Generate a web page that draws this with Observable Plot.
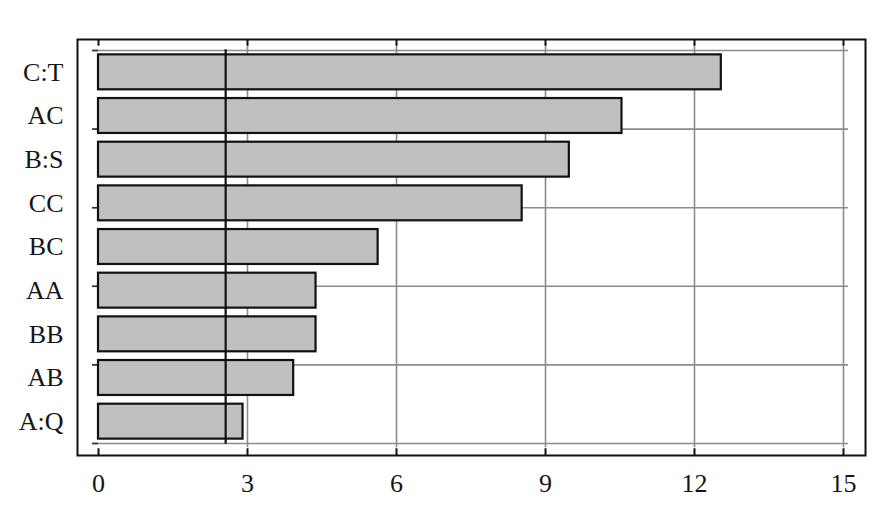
<!DOCTYPE html>
<html>
<head>
<meta charset="utf-8">
<script src="https://cdn.jsdelivr.net/npm/d3@7"></script>
<script src="https://cdn.jsdelivr.net/npm/@observablehq/plot@0.6"></script>
<style>
  html, body { margin: 0; padding: 0; background: #fff; }
  #chart svg { display: block; }
  #chart svg text { font-family: "Liberation Serif", "DejaVu Serif", serif !important; font-size: 26px; fill: #151515; }
</style>
</head>
<body>
<div id="chart"></div>
<script>
// Effects, top to bottom
const effects = ["C:T", "AC", "B:S", "CC", "BC", "AA", "BB", "AB", "A:Q"];
// Standardized effect values
const values = [12.54, 10.54, 9.48, 8.53, 5.63, 4.38, 4.38, 3.93, 2.91];
// Critical value line
const critical = 2.56;
// Axis tick values
const xTicks = [0, 3, 6, 9, 12, 15];
const yGrid = [0, 1.8, 3.6, 5.4, 7.2, 9];

const rows = effects.map((name, i) => ({
  name,
  value: values[i],
  pos: effects.length - 0.5 - i
}));

const chart = Plot.plot({
  width: 893,
  height: 512,
  marginLeft: 77,
  marginRight: 28,
  marginTop: 39,
  marginBottom: 57,
  style: { fontSize: "26px", color: "#151515", background: "#fff" },
  x: { domain: [-0.423, 15.443] },
  y: { domain: [-0.275, 9.252] },
  marks: [
    // vertical gridlines
    Plot.ruleX(xTicks.slice(1), { y1: -0.1, y2: 9.15, stroke: "#8c8c8c", strokeWidth: 1.6 }),
    // horizontal gridlines
    Plot.ruleY(yGrid, { x1: -0.12, x2: 15.1, stroke: "#8c8c8c", strokeWidth: 1.6 }),
    // left short ticks
    Plot.ruleY(yGrid, { x1: -0.12, x2: 0, stroke: "#333", strokeWidth: 1.6 }),
    // bars
    Plot.rectX(rows, {
      x1: 0, x2: "value",
      y1: d => d.pos - 0.4, y2: d => d.pos + 0.4,
      fill: "#c0c0c0", stroke: "#111", strokeWidth: 2.2
    }),
    // critical value line
    Plot.ruleX([critical], { y1: -0.02, y2: 9.02, stroke: "#111", strokeWidth: 2.2 }),
    // frame
    Plot.frame({ stroke: "#111", strokeWidth: 2 }),
    // x tick marks (top and bottom)
    Plot.ruleX(xTicks, { y1: 9.252, y2: 9.1, stroke: "#111", strokeWidth: 2 }),
    Plot.ruleX(xTicks, { y1: -0.275, y2: -0.12, stroke: "#111", strokeWidth: 2 }),
    Plot.axisX({ ticks: xTicks, tickSize: 0, tickPadding: 18, label: null }),
    Plot.axisY({ ticks: rows.map(d => d.pos), tickFormat: (d) => rows.find(r => Math.abs(r.pos - d) < 1e-6).name, tickSize: 0, tickPadding: 14, label: null })
  ]
});
document.getElementById("chart").appendChild(chart);
</script>
</body>
</html>
